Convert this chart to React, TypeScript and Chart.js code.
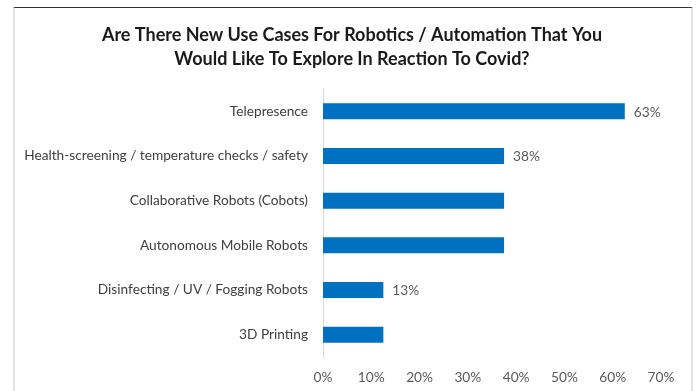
import React, { useEffect, useRef } from "react";
import { Chart, registerables } from "chart.js";

Chart.register(...registerables);

const titleLines = [
  "Are There New Use Cases For Robotics / Automation That You",
  "Would Like To Explore In Reaction To Covid?",
];
const categories = [
  "Telepresence",
  "Health-screening / temperature checks / safety",
  "Collaborative Robots (Cobots)",
  "Autonomous Mobile Robots",
  "Disinfecting / UV / Fogging Robots",
  "3D Printing",
];
const values = [62.5, 37.5, 37.5, 37.5, 12.5, 12.5];
const valueLabels = ["63%", "38%", "", "", "13%", ""];
const xTicks = [0, 10, 20, 30, 40, 50, 60, 70];

const FONT = "Lato, 'Open Sans', sans-serif";

const valueLabelPlugin = {
  id: "valueLabels",
  afterDatasetsDraw(chart: any) {
    const ctx = chart.ctx;
    const meta = chart.getDatasetMeta(0);
    ctx.save();
    ctx.font = `13.7px ${FONT}`;
    ctx.fillStyle = "#595959";
    ctx.textAlign = "left";
    ctx.textBaseline = "middle";
    meta.data.forEach((bar: any, i: number) => {
      const t = valueLabels[i];
      if (t) ctx.fillText(t, bar.x + 9, bar.y + 1);
    });
    ctx.restore();
  },
};

const titlePlugin = {
  id: "customTitle",
  afterDraw(chart: any) {
    const ctx = chart.ctx;
    ctx.save();
    ctx.font = `bold 18px ${FONT}`;
    ctx.fillStyle = "#1a1a1a";
    ctx.textAlign = "center";
    ctx.textBaseline = "middle";
    titleLines.forEach((line, i) => {
      ctx.fillText(line, 352, 35 + i * 24);
    });
    ctx.restore();
  },
};

export default function App() {
  const ref = useRef<HTMLCanvasElement | null>(null);
  useEffect(() => {
    if (!ref.current) return;
    const chart = new Chart(ref.current, {
      type: "bar",
      data: {
        labels: categories,
        datasets: [
          {
            data: values,
            backgroundColor: "#0070C0",
            borderWidth: 0,
            categoryPercentage: 1,
            barPercentage: 0.36,
          },
        ],
      },
      options: {
        indexAxis: "y",
        animation: false,
        responsive: true,
        maintainAspectRatio: false,
        layout: { padding: { left: 0, right: 35, top: 89, bottom: 0 } },
        plugins: {
          legend: { display: false },
          tooltip: { enabled: false },
          title: { display: false },
        },
        scales: {
          x: {
            min: 0,
            max: 70,
            afterBuildTicks: (scale: any) => {
              scale.ticks = xTicks.map((v) => ({ value: v }));
            },
            afterFit: (scale: any) => {
              scale.height = 34;
            },
            grid: { display: false, drawTicks: false },
            border: { display: false },
            ticks: {
              padding: 12,
              color: "#595959",
              font: { family: FONT, size: 13.7 },
              callback: (v: any) => `${v}%`,
            },
          },
          y: {
            afterFit: (scale: any) => {
              scale.width = 323;
            },
            grid: { display: false, drawTicks: false },
            border: { display: true, color: "#d9d9d9", width: 1 },
            ticks: {
              padding: 15,
              color: "#404040",
              font: { family: FONT, size: 13.7 },
            },
          },
        },
      },
      plugins: [valueLabelPlugin, titlePlugin],
    });
    return () => chart.destroy();
  }, []);

  return (
    <div
      style={{
        position: "fixed",
        left: 0,
        top: 0,
        width: 696,
        height: 391,
        background: "#fff",
        overflow: "hidden",
      }}
    >
      <div
        style={{
          position: "absolute",
          left: 13,
          top: 7,
          width: 680,
          height: 400,
          borderTop: "1px solid #333",
          borderLeft: "2px solid #e3e3e3",
          borderRight: "2px solid #e3e3e3",
          boxSizing: "border-box",
        }}
      />
      <div style={{ position: "absolute", left: 0, top: 0, width: 696, height: 391 }}>
        <canvas ref={ref} />
      </div>
    </div>
  );
}
